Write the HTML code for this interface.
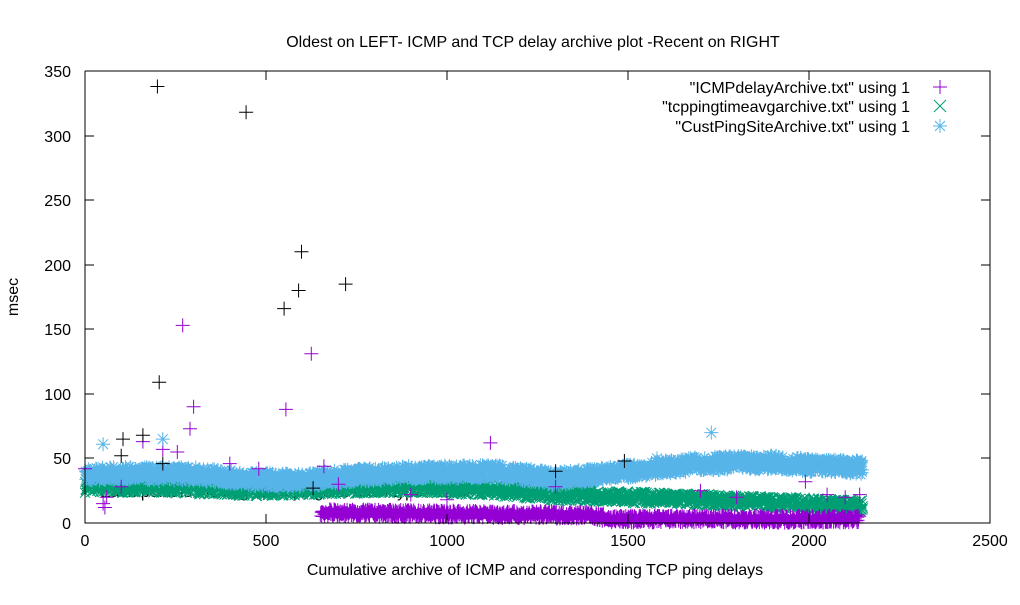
<!DOCTYPE html>
<html><head><meta charset="utf-8"><style>
html,body{margin:0;padding:0;background:#fff;}
svg text{font-family:"Liberation Sans",sans-serif;font-size:16px;fill:#000;}
</style></head><body>
<svg id="s" width="1020" height="600" xmlns="http://www.w3.org/2000/svg">
<rect width="1020" height="600" fill="#fff"/>
<text x="533" y="47" text-anchor="middle">Oldest on LEFT- ICMP and TCP delay archive plot -Recent on RIGHT</text>
<text x="18" y="297" text-anchor="middle" transform="rotate(-90 18 297)">msec</text>
<text x="535" y="575" text-anchor="middle">Cumulative archive of ICMP and corresponding TCP ping delays</text>
<g text-anchor="end">
<text x="71" y="529">0</text><text x="71" y="464">50</text><text x="71" y="400">100</text><text x="71" y="335">150</text><text x="71" y="271">200</text><text x="71" y="206">250</text><text x="71" y="142">300</text><text x="71" y="77">350</text>
</g>
<g text-anchor="middle">
<text x="85" y="546">0</text><text x="266" y="546">500</text><text x="447" y="546">1000</text><text x="628" y="546">1500</text><text x="809" y="546">2000</text><text x="990" y="546">2500</text>
</g>
<text x="100" y="497" fill="#222">Each point is the avg of 10 pings of each type - ICMP</text>
<g id="data"></g>
<g text-anchor="end">
<text x="910" y="93">"ICMPdelayArchive.txt" using 1</text>
<text x="910" y="112">"tcppingtimeavgarchive.txt" using 1</text>
<text x="910" y="132">"CustPingSiteArchive.txt" using 1</text>
</g>
<g stroke-width="1" fill="none">
<path d="M933 87h14M940 80v14" stroke="#9400d3"/>
<path d="M934 100l12 12M946 100l-12 12" stroke="#009e73"/>
<path d="M933 126h14M940 119v14M935 121l10 10M945 121l-10 10" stroke="#56b4e9"/>
</g>
</svg>
<script>
var seed=7;function r(){seed=(seed*16807)%2147483647;return seed/2147483647;}
function px(x){return 85+x*0.362;}function py(v){return 523-v*1.2914;}
function f(n){return (+n).toFixed(1);}
function interp(pts,x){for(var i=0;i<pts.length-1;i++){if(x<=pts[i+1][0]){var t=(x-pts[i][0])/(pts[i+1][0]-pts[i][0]);return pts[i][1]+t*(pts[i+1][1]-pts[i][1]);}}return pts[pts.length-1][1];}
function plus(x,y,s){return "M"+f(x-s)+" "+f(y)+"h"+f(2*s)+"M"+f(x)+" "+f(y-s)+"v"+f(2*s);}
function cross(x,y,s){return "M"+f(x-s)+" "+f(y-s)+"l"+f(2*s)+" "+f(2*s)+"M"+f(x+s)+" "+f(y-s)+"l"+f(-2*s)+" "+f(2*s);}
function star(x,y,s){return plus(x,y,s)+cross(x,y,s*0.7);}
var g=document.getElementById("data"),html="";
var blue=[[0,38],[300,38],[450,34],[600,33],[750,37],[900,39],[1100,40],[1200,38],[1300,34],[1400,37],[1500,40],[1600,43],[1700,46],[1900,47],[2000,45],[2150,43]];
var green=[[0,28],[200,28],[500,25],[700,27],[900,28],[1100,26],[1200,24],[1300,22],[1500,20],[1700,18],[2000,15],[2150,13]];
var purp=[[650,8],[1000,7],[1400,6],[1450,3],[2150,3]];
var d="";for(var i=0;i<2150;i+=1){var v=interp(green,i)+(r()-0.5)*9;d+=cross(px(i),py(v),5);}
html+='<path d="'+d+'" stroke="#009e73" fill="none"/>';
d="";for(var i=0;i<2150;i+=1){var v=interp(blue,i)+(r()-0.5)*12;d+=star(px(i),py(v),6);}
html+='<path d="'+d+'" stroke="#56b4e9" fill="none"/>';
d="";for(var i=650;i<2140;i+=1){var v=interp(purp,i)+(r()-0.5)*7;d+=plus(px(i),py(v),6);}
html+='<path d="'+d+'" stroke="#9400d3" fill="none"/>';
var po=[[270,153],[625,131],[300,90],[555,88],[290,73],[255,55],[215,57],[1120,62],[160,63],[480,42],[660,44],[55,12],[50,15],[60,20],[400,46],[700,30],[900,22],[1000,18],[1300,28],[1700,25],[1990,32],[2050,22],[2100,20],[1800,20],[2140,22],[100,28],[0,42]];
d="";po.forEach(function(p){d+=plus(px(p[0]),py(p[1]),7);});
html+='<path d="'+d+'" stroke="#9400d3" fill="none"/>';
var bo=[[1730,70],[215,65],[50,61],[1580,50],[1850,50]];
d="";bo.forEach(function(p){d+=star(px(p[0]),py(p[1]),7);});
html+='<path d="'+d+'" stroke="#56b4e9" fill="none"/>';
var ko=[[200,338],[445,318],[598,210],[590,180],[550,166],[720,185],[205,109],[105,65],[160,68],[100,52],[1490,48],[1300,40],[630,27],[215,46]];
d="";ko.forEach(function(p){d+=plus(px(p[0]),py(p[1]),7);});
html+='<path d="'+d+'" stroke="#000" fill="none"/>';
g.innerHTML=html;
</script>
<svg style="position:absolute;left:0;top:0" width="1020" height="600" xmlns="http://www.w3.org/2000/svg">
<g stroke="#000" fill="none">
<path d="M85 71v452h905V71H85"/>
<path d="M85 523h9M85 458h9M85 394h9M85 329h9M85 265h9M85 200h9M85 136h9M85 71h9M990 523h-9M990 458h-9M990 394h-9M990 329h-9M990 265h-9M990 200h-9M990 136h-9M990 71h-9"/>
<path d="M85 523v-9M266 523v-9M447 523v-9M628 523v-9M809 523v-9M990 523v-9M85 71v9M266 71v9M447 71v9M628 71v9M809 71v9M990 71v9"/>
</g></svg>
</body></html>
